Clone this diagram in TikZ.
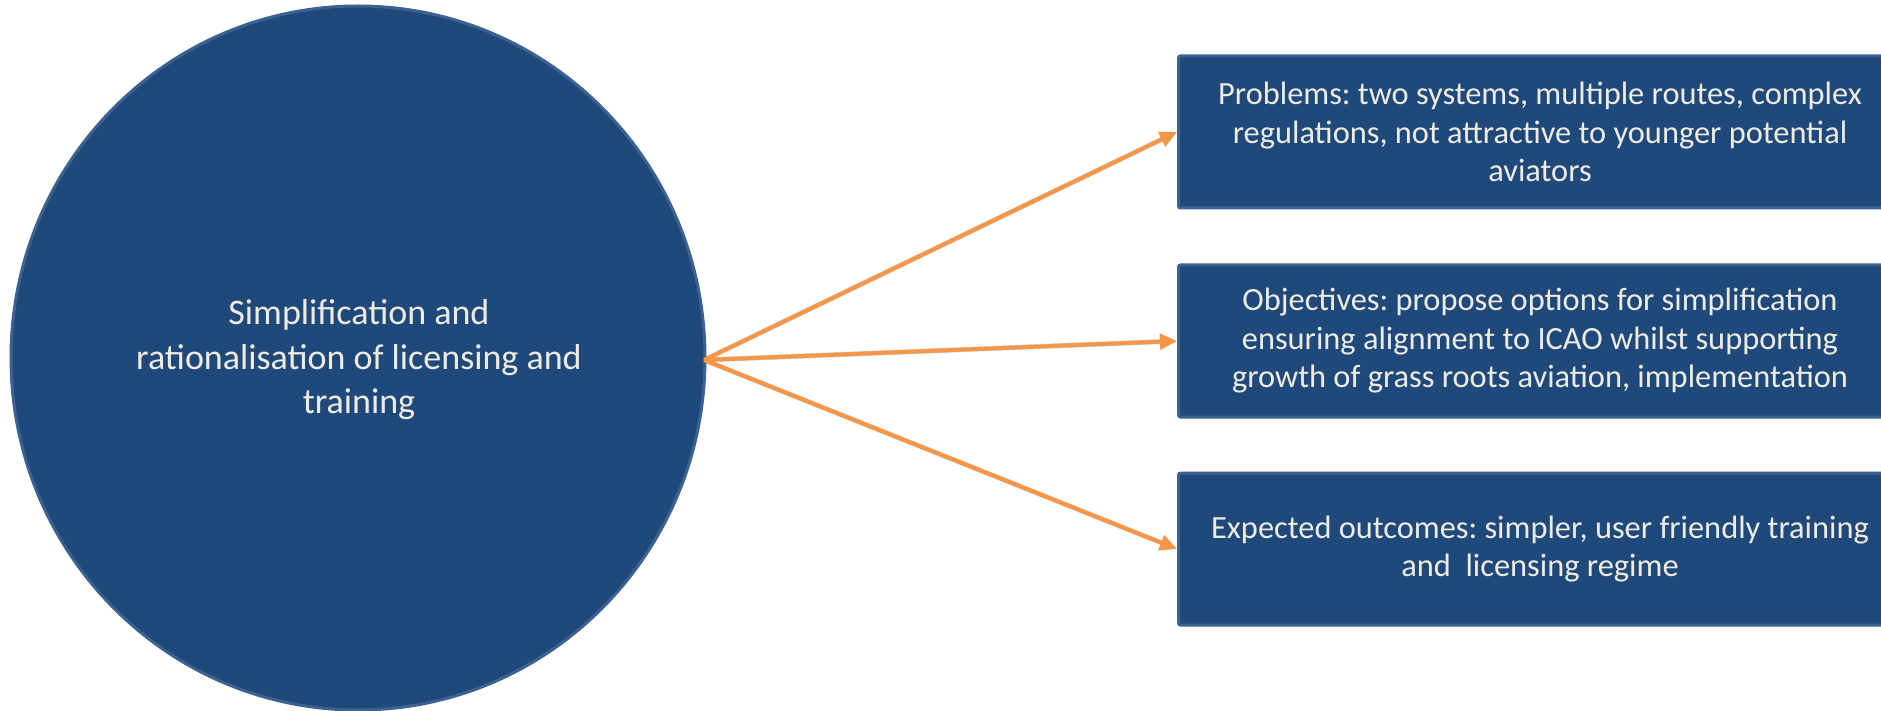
\documentclass[tikz,border=0pt]{standalone}
\usepackage{fontspec}
\setmainfont{Carlito}
\frenchspacing
\usetikzlibrary{arrows.meta,shapes.geometric}
\definecolor{navy}{RGB}{32,73,123}
\definecolor{navyedge}{RGB}{60,98,145}
\definecolor{txtcol}{RGB}{238,236,225}
\definecolor{arrcol}{RGB}{247,150,70}
\tikzset{
  bigtext/.style={text=txtcol, align=center, font=\fontsize{36}{44.5}\selectfont},
  bubble/.style={ellipse, fill=navy, draw=navyedge, line width=3pt, inner sep=0pt},
  infobox/.style={rectangle, fill=navy, draw=navyedge, line width=3pt, rounded corners=2pt,
    minimum width=723pt, minimum height=152pt, anchor=west, text=txtcol, align=center,
    font=\fontsize{32.4}{38.5}\selectfont},
  connector/.style={draw=arrcol, line width=4pt, -{Triangle[length=17pt,width=15pt]}},
  connshadow/.style={draw=black, opacity=0.18, line width=5pt, -{Triangle[length=17pt,width=16pt]}}
}
\begin{document}
\begin{tikzpicture}[x=1pt,y=-1pt]
\useasboundingbox (0,0) rectangle (1881,711);
\clip (0,0) rectangle (1881,711);
\fill[white] (0,0) rectangle (1881,711);
\node[bubble, minimum width=694pt, minimum height=704pt] (c) at (358,358) {};
\node[bigtext] (ct) at (359,360) {Simplification and\\rationalisation of licensing and\\training};
\node[infobox] (b1) at (1177,132) {Problems: two systems, multiple routes, complex\\regulations, not attractive to younger potential\\aviators};
\node[infobox] (b2) at (1177,341) {Objectives: propose options for simplification\\ensuring alignment to ICAO whilst supporting\\growth of grass roots aviation, implementation};
\node[infobox] (b3) at (1177,549) {Expected outcomes: simpler, user friendly training\\and\ \ licensing regime};
\coordinate (o) at (704,360);
\begin{scope}[shift={(2,3)}]
\draw[connshadow] (o) -- (b1.west);
\draw[connshadow] (o) -- (b2.west);
\draw[connshadow] (o) -- (b3.west);
\end{scope}
\draw[connector] (o) -- (b1.west);
\draw[connector] (o) -- (b2.west);
\draw[connector] (o) -- (b3.west);
\end{tikzpicture}
\end{document}
